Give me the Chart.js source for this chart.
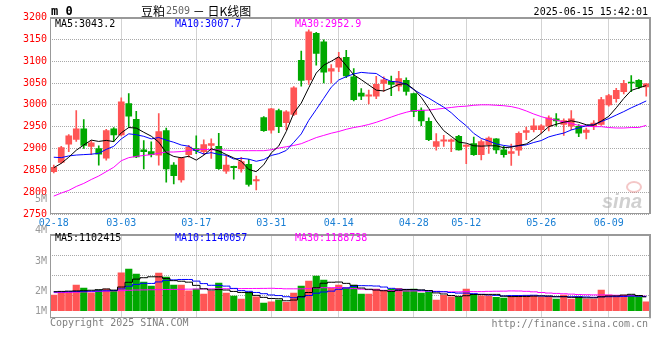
<!DOCTYPE html>
<html lang="zh">
<head>
<meta charset="utf-8">
<script src="https://cdn.jsdelivr.net/npm/chart.js@4.4.1/dist/chart.umd.min.js"></script>
<style>
html,body{margin:0;padding:0;background:#fff;}
#wrap{position:relative;width:660px;height:360px;overflow:hidden;background:#fff;}
#wrap canvas{position:absolute;left:0;}
</style>
</head>
<body>
<div id="wrap">
<canvas id="priceChart" width="660" height="232" style="top:0"></canvas>
<canvas id="volChart" width="660" height="170" style="top:190px"></canvas>
</div>
<script>
// ---------------- data ----------------
const dates = ['02-18','02-19','02-20','02-21','02-24','02-25','02-26','02-27','02-28',
 '03-03','03-04','03-05','03-06','03-07','03-10','03-11','03-12','03-13','03-14','03-17','03-18','03-19','03-20','03-21','03-24','03-25','03-26','03-27','03-28','03-31',
 '04-01','04-02','04-03','04-07','04-08','04-09','04-10','04-11','04-14','04-15','04-16','04-17','04-18','04-21','04-22','04-23','04-24','04-25','04-28','04-29','04-30',
 '05-06','05-07','05-08','05-09','05-12','05-13','05-14','05-15','05-16','05-19','05-20','05-21','05-22','05-23','05-26','05-27','05-28','05-29','05-30',
 '06-03','06-04','06-05','06-06','06-09','06-10','06-11','06-12','06-13','06-16'];

const opens = [2847,2868,2910,2921,2945,2905,2900,2878,2945,2931, 3003,2967,2897,2893,2885,2941,2862,2828,2886,2900,
 2893,2907,2905,2848,2859,2853,2864,2826,2971,2942, 2987,2959,2978,3102,3057,3164,3144,3077,3086,3109,
 3064,3027,3020,3020,3049,3054,3043,3056,3026,2988, 2962,2905,2917,2916,2928,2905,2911,2886,2909,2922,
 2897,2889,2896,2937,2943,2943,2951,2968,2955,2951, 2951,2937,2951,2955,3000,3014,3030,3052,3056,3041];
const highs = [2862,2905,2932,2987,2966,2918,2906,2944,2948,3016, 3026,2985,2918,2915,2980,2947,2868,2880,2907,2929,
 2920,2922,2935,2884,2860,2880,2875,2837,2973,2992, 2990,2987,3042,3123,3172,3166,3149,3092,3120,3125,
 3083,3037,3034,3065,3064,3066,3077,3062,3027,2993, 2970,2934,2930,2922,2930,2909,2926,2920,2927,2923,
 2905,2910,2938,2949,2968,2955,2975,2980,2968,2987, 2955,2947,2964,3017,3024,3038,3056,3067,3058,3049];
const lows = [2844,2866,2893,2916,2900,2886,2862,2873,2916,2929, 2948,2879,2853,2881,2862,2823,2819,2823,2880,2888,
 2886,2877,2852,2843,2830,2846,2814,2805,2939,2935, 2936,2943,2975,3043,3047,3091,3050,3050,3076,3062,
 3009,3012,3002,3014,3031,3021,3032,3022,2973,2952, 2918,2896,2905,2893,2896,2865,2884,2874,2889,2889,
 2880,2861,2884,2920,2938,2935,2940,2951,2930,2943, 2927,2922,2943,2953,2997,3006,3025,3030,3037,3020];
const closes = [2857,2902,2929,2945,2907,2913,2887,2941,2931,3007, 2974,2881,2893,2886,2939,2853,2838,2878,2903,2895,
 2909,2911,2854,2862,2856,2870,2818,2829,2941,2991, 2950,2984,3039,3056,3167,3118,3075,3083,3107,3066,
 3012,3020,3023,3047,3057,3047,3060,3031,2985,2963, 2920,2916,2920,2920,2897,2908,2886,2916,2924,2897,
 2886,2893,2935,2941,2952,2952,2970,2963,2964,2968, 2935,2942,2958,3012,3021,3033,3049,3050,3041,3048];

const ma5 = [2856,2866,2880,2896,2908.0,2919.2,2916.2,2918.6,2915.8,2935.8, 2948.0,2946.8,2937.2,2928.2,2914.6,2890.4,2881.8,2878.8,2882.2,2873.4,
 2884.6,2899.2,2894.4,2886.2,2878.4,2870.6,2852.0,2847.0,2862.8,2889.8, 2905.8,2939.0,2981.0,3004.0,3039.2,3072.8,3091.0,3099.8,3110.0,3089.8,
 3068.6,3057.6,3045.6,3033.6,3031.8,3038.8,3046.8,3048.4,3036.0,3017.2, 2991.8,2963.0,2940.8,2927.8,2914.6,2912.2,2906.2,2905.4,2906.2,2906.2,
 2901.8,2903.2,2907.0,2910.4,2921.4,2934.6,2950.0,2955.6,2960.2,2963.4, 2960.0,2954.4,2953.4,2963.0,2973.6,2993.2,3014.6,3033.0,3038.8,3044.2];
const ma10 = [2880,2879,2883,2885,2886,2887,2889,2898,2905,2921.9, 2933.6,2931.5,2927.9,2922.0,2925.2,2919.2,2914.3,2908.0,2905.2,2894.0,
 2887.5,2890.5,2886.6,2884.2,2875.9,2877.6,2875.6,2870.7,2874.5,2884.1, 2888.2,2895.5,2914.0,2933.4,2964.5,2989.3,3015.0,3040.4,3057.0,3064.5,
 3070.7,3074.3,3072.7,3071.8,3060.8,3053.7,3052.2,3047.0,3034.8,3024.5, 3015.3,3004.9,2994.6,2981.9,2965.9,2952.0,2934.6,2923.1,2917.0,2910.4,
 2907.0,2904.7,2906.2,2908.3,2913.8,2918.2,2926.6,2931.3,2935.3,2942.4, 2947.3,2952.2,2954.5,2961.6,2968.5,2976.6,2984.5,2993.2,3000.9,3008.9];
const ma30 = [2791,2798,2804,2813,2820,2829,2837,2847,2857,2872, 2879,2882,2884,2886,2889,2892,2892,2893,2895,2898,
 2898,2897,2897,2896,2895,2895,2895,2895,2895,2897, 2901,2904,2907,2911,2918,2925,2930,2935,2939,2944,
 2948,2951,2955,2960,2966,2972,2978,2983,2987,2987, 2988,2990,2992,2994,2996,2997,2999,3000,3000,2999,
 2998,2996,2992,2986,2979,2973,2968,2965,2961,2957, 2953,2951,2950,2950,2948,2947,2947,2948,2948,2953];

// volume, thousands of lots
const volumes = [1250,1436,1436,2048,1809,1436,1649,1729,1596,3032, 3325,2926,2288,1968,3006,2687,2048,2048,1596,1729,
 1330,1569,2208,1410,1170,931,1490,1117,612,718, 851,665,1410,1968,2367,2766,2447,1809,2048,1835,
 2022,1330,1330,1729,1569,1729,1782,1649,1729,1410, 1463,851,1224,1117,1064,1729,1330,1197,1197,1064,
 1011,1170,1224,1224,1197,1091,1117,931,1250,931, 1091,931,931,1649,1250,1144,1250,1250,1170,718];
const volMa5 = [1520,1540,1560,1580,1596,1633,1676,1734,1644,1888, 2266,2522,2633,2708,2703,2575,2399,2351,2277,2022,
 1750,1654,1686,1649,1537,1458,1442,1224,1064,974, 958,793,851,1122,1452,1835,2192,2271,2287,2181,
 2032,1809,1713,1649,1596,1537,1628,1692,1692,1660, 1607,1420,1335,1213,1144,1197,1293,1287,1303,1303,
 1160,1128,1133,1139,1165,1181,1171,1112,1117,1064, 1064,1027,1027,1107,1170,1181,1245,1309,1213,1106];
const volMa10 = [1500,1510,1520,1530,1545,1560,1575,1590,1610,1742, 1950,2099,2184,2176,2296,2421,2461,2492,2492,2362,
 2163,2027,2019,1963,1780,1604,1548,1455,1357,1256, 1208,1117,1037,1093,1213,1396,1492,1561,1705,1817,
 1934,2000,1992,1968,1889,1785,1718,1702,1670,1628, 1572,1524,1514,1452,1402,1402,1357,1311,1258,1224,
 1178,1210,1210,1221,1234,1171,1149,1123,1128,1115, 1123,1099,1069,1112,1117,1123,1136,1168,1160,1138];
const volMa30 = [1440,1450,1460,1480,1500,1520,1540,1560,1580,1600, 1630,1650,1660,1670,1680,1690,1700,1710,1720,1730,
 1735,1740,1750,1755,1760,1765,1770,1775,1780,1787, 1773,1748,1747,1744,1763,1807,1834,1836,1851,1811,
 1768,1715,1683,1675,1627,1595,1586,1573,1577,1567, 1571,1547,1514,1505,1501,1528,1522,1525,1545,1556,
 1561,1578,1572,1547,1508,1452,1408,1379,1352,1322, 1291,1278,1264,1262,1251,1232,1214,1201,1182,1159];

const priceTicks = [2750,2800,2850,2900,2950,3000,3050,3100,3150,3200];
const dateTickLabels = ['02-18','03-03','03-17','03-31','04-14','04-28','05-12','05-26','06-09'];
const volTickLabels = ['5M','4M','3M','2M','1M'];
const volTickValues = [8914,6440,3966,1572,-24];
const volGridValues = [4445,2849,1253];
const volRange = [-606, 6081];

const modeLabel = 'm 0';
const titleName = '豆粕', titleCode = '2509', titleRest = ' － 日K线图';
const stampText = '2025-06-15 15:42:01';
const priceLegend = ['MA5:3043.2','MA10:3007.7','MA30:2952.9'];
const volLegend = ['MA5:1102415','MA10:1140057','MA30:1188738'];
const copyText = 'Copyright 2025 SINA.COM';
const urlText = 'http://finance.sina.com.cn';

// ---------------- styles ----------------
const MONO = '"DejaVu Sans Mono", monospace';
const CJK = '"Noto Sans CJK SC", sans-serif';
const UP = '#ff5555', DOWN = '#00a800';
const GRID = '#a8a8a8';
const LEG_COLORS = ['#000000','#0000ff','#ff00ff'];
const LEG_X = [55,175,295];

Chart.defaults.font.family = MONO;
Chart.defaults.font.size = 10;

const candleColors = closes.map((c,i) => c >= opens[i] ? UP : DOWN);
const labelIdx = dateTickLabels.map(d => dates.indexOf(d));
const xGridColor = ctx => (labelIdx.includes(ctx.index) && ctx.index !== 0) ? GRID : 'rgba(0,0,0,0)';

const borderPlugin = {
  id: 'panelBorder',
  afterDraw(chart) {
    const {ctx, chartArea: a} = chart;
    ctx.save();
    ctx.strokeStyle = '#999';
    ctx.lineWidth = 1;
    ctx.beginPath();
    ctx.moveTo(a.left + 0.5, a.top); ctx.lineTo(a.left + 0.5, a.bottom);
    ctx.moveTo(a.left, Math.round(a.bottom) - 0.5); ctx.lineTo(a.right, Math.round(a.bottom) - 0.5);
    ctx.stroke();
    ctx.lineWidth = 2;
    ctx.beginPath();
    ctx.moveTo(a.left, Math.round(a.top)); ctx.lineTo(a.right + 1, Math.round(a.top));
    ctx.moveTo(a.right, a.top); ctx.lineTo(a.right, a.bottom);
    ctx.stroke();
    ctx.restore();
  }
};

const priceTexts = {
  id: 'priceTexts',
  afterDraw(chart) {
    const ctx = chart.ctx;
    ctx.save();
    ctx.textBaseline = 'middle';
    ctx.textAlign = 'left';
    ctx.fillStyle = '#000';
    ctx.font = 'bold 12px ' + MONO;
    ctx.fillText(modeLabel, 51, 12);
    let x = 141;
    ctx.font = '12px ' + CJK;
    ctx.fillText(titleName, x, 11);
    x += ctx.measureText(titleName).width + 1;
    ctx.font = '10px ' + MONO; ctx.fillStyle = '#666';
    ctx.fillText(titleCode, x, 11);
    x += ctx.measureText(titleCode).width;
    ctx.font = '12px ' + CJK; ctx.fillStyle = '#000';
    ctx.fillText(titleRest, x, 11);
    ctx.font = '10px ' + MONO;
    ctx.textAlign = 'right';
    ctx.fillText(stampText, 648, 12);
    ctx.textAlign = 'left';
    priceLegend.forEach((t,i) => { ctx.fillStyle = LEG_COLORS[i]; ctx.fillText(t, LEG_X[i], 24); });
    // watermark
    ctx.font = 'italic bold 20px "Liberation Sans", sans-serif';
    ctx.fillStyle = 'rgba(170,170,170,0.55)';
    ctx.textAlign = 'center';
    ctx.fillText('sina', 622, 202);
    ctx.strokeStyle = 'rgba(230,130,130,0.45)';
    ctx.lineWidth = 2;
    ctx.beginPath(); ctx.ellipse(634, 187, 7, 5, 0, 0, Math.PI * 2); ctx.stroke();
    ctx.restore();
  }
};

const volTexts = {
  id: 'volTexts',
  afterDraw(chart) {
    const ctx = chart.ctx;
    ctx.save();
    ctx.textBaseline = 'middle';
    ctx.font = '10px ' + MONO;
    ctx.textAlign = 'left';
    volLegend.forEach((t,i) => { ctx.fillStyle = LEG_COLORS[i]; ctx.fillText(t, LEG_X[i], 48.5); });
    ctx.fillStyle = '#808080';
    ctx.fillText(copyText, 50, 133);
    ctx.textAlign = 'right';
    ctx.fillText(urlText, 648, 134);
    ctx.restore();
  }
};

// ---------------- price chart ----------------
new Chart(document.getElementById('priceChart'), {
  type: 'bar',
  data: {
    labels: dates,
    datasets: [
      { type:'line', label:'MA5', data: ma5, borderColor:'#000', borderWidth:1, pointRadius:0, tension:0, order:0 },
      { type:'line', label:'MA10', data: ma10, borderColor:'#0000ff', borderWidth:1, pointRadius:0, tension:0, order:0 },
      { type:'line', label:'MA30', data: ma30, borderColor:'#ff00ff', borderWidth:1, pointRadius:0, tension:0, order:0 },
      { label:'body', data: opens.map((o,i) => [o, closes[i]]), backgroundColor: candleColors, borderWidth:0,
        barThickness:6, minBarLength:1, grouped:false, order:1 },
      { label:'wick', data: lows.map((l,i) => [l, highs[i]]), backgroundColor: candleColors, borderWidth:0,
        barThickness:1, grouped:false, order:2 }
    ]
  },
  options: {
    responsive:false, animation:false, devicePixelRatio:1, events:[],
    layout: { padding: { top:17.5, right:10, left:0, bottom:0 } },
    plugins: { legend:{display:false}, tooltip:{enabled:false}, title:{display:false} },
    scales: {
      x: {
        offset:true,
        grid: { offset:false, color: xGridColor, lineWidth:1, drawTicks:false },
        border: { display:false, dash:[1,1] },
        ticks: { autoSkip:false, maxRotation:0, minRotation:0, padding:3, color:'#1a7fd4',
                 font:{ family: MONO, size:10 },
                 callback: (v, i) => labelIdx.includes(i) ? dates[i] : '' },
        afterFit: s => { s.height = 18; }
      },
      y: {
        min: 2750, max: 3200,
        afterBuildTicks: s => { s.ticks = priceTicks.map(v => ({ value: v })); },
        grid: { color: GRID, lineWidth:1, drawTicks:false },
        border: { display:false, dash:[1,1] },
        ticks: { color:'#ff0000', padding:3, font:{ family: MONO, size:10 }, callback: v => String(v) },
        afterFit: s => { s.width = 50; }
      }
    }
  },
  plugins: [borderPlugin, priceTexts]
});

// ---------------- volume chart ----------------
new Chart(document.getElementById('volChart'), {
  type: 'bar',
  data: {
    labels: dates,
    datasets: [
      { type:'line', label:'VMA5', data: volMa5, borderColor:'#000', borderWidth:1, pointRadius:0, stepped:'middle', yAxisID:'yv', order:0 },
      { type:'line', label:'VMA10', data: volMa10, borderColor:'#0000ff', borderWidth:1, pointRadius:0, stepped:'middle', yAxisID:'yv', order:0 },
      { type:'line', label:'VMA30', data: volMa30, borderColor:'#ff00ff', borderWidth:1, pointRadius:0, stepped:'middle', yAxisID:'yv', order:0 },
      { label:'volume', data: volumes, backgroundColor: candleColors, borderWidth:0, barThickness:6.5, yAxisID:'yv', order:1 }
    ]
  },
  options: {
    responsive:false, animation:false, devicePixelRatio:1, events:[],
    layout: { padding: { top:44.5, right:10, left:0, bottom:41.7 } },
    plugins: { legend:{display:false}, tooltip:{enabled:false}, title:{display:false} },
    scales: {
      x: {
        offset:true,
        grid: { offset:false, color: xGridColor, lineWidth:1, drawTicks:false },
        border: { display:false, dash:[1,1] },
        ticks: { display:false },
        afterFit: s => { s.height = 0; }
      },
      yv: {
        position:'left', weight:0,
        min: volRange[0], max: volRange[1],
        afterBuildTicks: s => { s.ticks = volGridValues.map(v => ({ value: v })); },
        grid: { color: GRID, lineWidth:1, drawTicks:false },
        border: { display:false, dash:[1,1] },
        ticks: { display:false },
        afterFit: s => { s.width = 0; }
      },
      yvl: {
        position:'left', weight:1,
        min: volRange[0], max: volRange[1],
        afterBuildTicks: s => { s.ticks = volTickValues.map(v => ({ value: v })); },
        grid: { display:false, drawTicks:false },
        border: { display:false },
        ticks: { color:'#999', padding:3, font:{ family: MONO, size:10 }, callback: (v, i) => volTickLabels[i] },
        afterFit: s => { s.width = 50; }
      }
    }
  },
  plugins: [borderPlugin, volTexts]
});
</script>
</body>
</html>
